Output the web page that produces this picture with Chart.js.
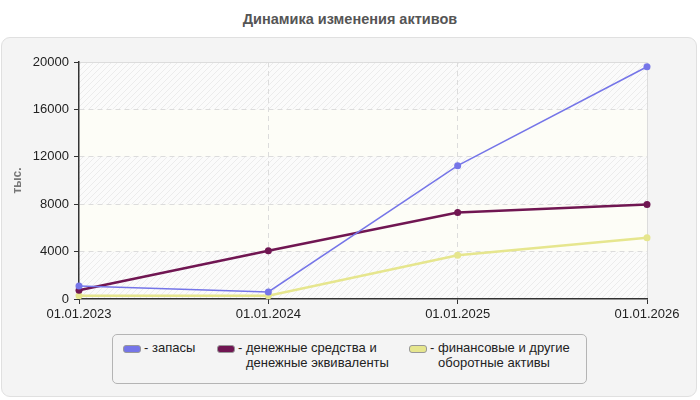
<!DOCTYPE html>
<html>
<head>
<meta charset="utf-8">
<script src="https://cdn.jsdelivr.net/npm/chart.js@4"></script>
<style>
  html, body { margin:0; padding:0; background:#fff; }
  body { width:700px; height:400px; position:relative; overflow:hidden; font-family:"Liberation Sans", Arial, sans-serif; }
  #title { position:absolute; left:0; top:11px; width:700px; text-align:center; font-weight:bold; font-size:14.5px; color:#555; }
  #box { position:absolute; left:1px; top:37px; width:694px; height:358px; background:#f4f4f4; border:1px solid #e0e0e0; border-radius:9px; }
  #cv { position:absolute; left:0; top:0; }
  #legend { position:absolute; left:112px; top:334px; width:473px; height:48px; border:1px solid #b4b4b4; border-radius:5px; background:#f4f4f4; font-size:13px; color:#222; }
  .item { position:absolute; top:5px; line-height:15px; }
  .sw { position:absolute; top:5px; left:0; width:16px; height:6px; border-radius:3px; border:1px solid #999; }
  .tx { position:absolute; left:21px; top:0; white-space:nowrap; }
  .tx span { display:inline-block; }
</style>
</head>
<body>
<div id="title">Динамика изменения активов</div>
<div id="box"></div>
<canvas id="cv" width="700" height="400"></canvas>
<div id="legend"></div>
<script>
const categories = ['01.01.2023', '01.01.2024', '01.01.2025', '01.01.2026'];
const seriesNames = ['запасы', 'денежные средства и\nденежные эквиваленты', 'финансовые и другие\nоборотные активы'];
const zapasy = [1100, 600, 11250, 19600];
const dengi = [740, 4080, 7300, 7970];
const finansy = [270, 270, 3700, 5160];
const yTicks = [0, 4000, 8000, 12000, 16000, 20000];
const yUnit = 'тыс.';

const colors = ['#7575e8', '#701652', '#e6e68e'];
const widths = [1.5, 2.5, 2.5];
const values = [zapasy, dengi, finansy];

// HTML legend
const legendLefts = [10, 104, 296];
const legend = document.getElementById('legend');
seriesNames.forEach((name, i) => {
  const it = document.createElement('div');
  it.className = 'item';
  it.style.left = legendLefts[i] + 'px';
  const sw = document.createElement('div');
  sw.className = 'sw';
  sw.style.background = colors[i];
  const tx = document.createElement('div');
  tx.className = 'tx';
  const lines = name.split('\n');
  tx.innerHTML = '- ' + lines[0] + (lines[1] ? '<br><span style="padding-left:8px">' + lines[1] + '</span>' : '');
  it.appendChild(sw); it.appendChild(tx);
  legend.appendChild(it);
});

// plot background: alternating bands with hatching
function makeHatch() {
  const c = document.createElement('canvas');
  c.width = 6; c.height = 6;
  const g = c.getContext('2d');
  g.fillStyle = '#fbfbfb';
  g.fillRect(0, 0, 6, 6);
  g.strokeStyle = '#ececec';
  g.lineWidth = 1;
  g.beginPath();
  g.moveTo(0, 6); g.lineTo(6, 0);
  g.moveTo(-3, 3); g.lineTo(3, -3);
  g.moveTo(3, 9); g.lineTo(9, 3);
  g.stroke();
  return c;
}
const bgPlugin = {
  id: 'bands',
  beforeDraw(chart) {
    const { ctx, chartArea: a, scales: { y } } = chart;
    const pat = ctx.createPattern(makeHatch(), 'repeat');
    ctx.save();
    for (let i = 0; i < yTicks.length - 1; i++) {
      const top = y.getPixelForValue(yTicks[i + 1]);
      const bot = y.getPixelForValue(yTicks[i]);
      ctx.fillStyle = (i % 2 === 0) ? pat : '#fdfdf7';
      ctx.fillRect(a.left, top, a.right - a.left, bot - top);
    }
    ctx.strokeStyle = '#dcdcdc';
    ctx.lineWidth = 1;
    ctx.beginPath();
    ctx.moveTo(a.left, a.top + 0.5); ctx.lineTo(a.right + 0.5, a.top + 0.5);
    ctx.lineTo(a.right + 0.5, a.bottom);
    ctx.stroke();
    ctx.restore();
  }
};

Chart.defaults.font.family = '"Liberation Sans", Arial, sans-serif';
Chart.defaults.font.size = 13;
Chart.defaults.color = '#222';

new Chart(document.getElementById('cv'), {
  type: 'line',
  data: {
    labels: categories,
    datasets: seriesNames.map((n, i) => ({
      label: n,
      data: values[i],
      borderColor: colors[i],
      backgroundColor: colors[i],
      borderWidth: widths[i],
      pointRadius: 3.5,
      pointHoverRadius: 4,
      pointBorderWidth: 0,
      tension: 0,
      fill: false
    }))
  },
  options: {
    responsive: false,
    animation: false,
    layout: { padding: { left: 0, right: 53, top: 62, bottom: 76 } },
    plugins: { legend: { display: false }, tooltip: { enabled: false } },
    scales: {
      x: {
        type: 'category',
        offset: false,
        grid: {
          color: (c) => (c.index === 0 || c.index === categories.length - 1) ? 'rgba(0,0,0,0)' : '#dcdcdc',
          tickColor: '#333',
          tickLength: 5,
          drawTicks: true
        },
        border: { display: true, color: '#333', width: 1.5, dash: [5, 4] },
        ticks: { color: '#222', padding: 3, maxRotation: 0, autoSkip: false, font: { size: 13 } },
        afterFit: (s) => { s.height = 25; }
      },
      y: {
        min: 0,
        max: 20000,
        afterBuildTicks: (s) => { s.ticks = yTicks.map(v => ({ value: v })); },
        grid: {
          color: (c) => (c.index === 0 || c.index === yTicks.length - 1) ? 'rgba(0,0,0,0)' : '#dcdcdc',
          tickColor: '#333',
          tickLength: 5
        },
        border: { display: true, color: '#333', width: 1.5, dash: [5, 4] },
        ticks: { color: '#222', padding: 5, font: { size: 13 }, callback: (v) => String(v) },
        title: { display: true, text: yUnit, color: '#777', font: { size: 12, weight: 'bold' }, padding: { top: 10, bottom: 0 } },
        afterFit: (s) => { s.width = 79; }
      }
    }
  },
  plugins: [bgPlugin]
});
</script>
</body>
</html>
